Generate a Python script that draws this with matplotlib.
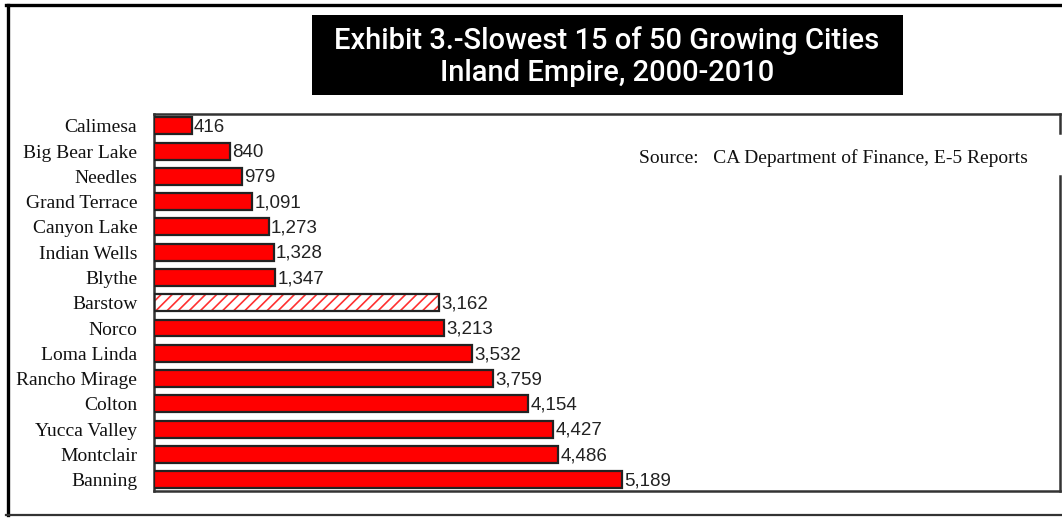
import matplotlib
matplotlib.use("Agg")
import matplotlib.pyplot as plt
from matplotlib.lines import Line2D
from matplotlib.patches import Rectangle

cities = ["Calimesa", "Big Bear Lake", "Needles", "Grand Terrace", "Canyon Lake",
          "Indian Wells", "Blythe", "Barstow", "Norco", "Loma Linda",
          "Rancho Mirage", "Colton", "Yucca Valley", "Montclair", "Banning"]
growth = [416, 840, 979, 1091, 1273, 1328, 1347, 3162, 3213, 3532,
          3759, 4154, 4427, 4486, 5189]
highlight = "Barstow"

title_lines = ["Exhibit 3.-Slowest 15 of 50 Growing Cities", "Inland Empire, 2000-2010"]
source_note = "Source:   CA Department of Finance, E-5 Reports"

plt.rcParams["hatch.linewidth"] = 1.2

W, H = 1062, 518
fig = plt.figure(figsize=(W / 100, H / 100), dpi=100)
fig.patch.set_facecolor("white")

# plot area in pixel terms -> figure fractions
ax_l, ax_r, ax_t, ax_b = 154, 1060, 114, 491
ax = fig.add_axes([ax_l / W, 1 - ax_b / H, (ax_r - ax_l) / W, (ax_b - ax_t) / H])

ypos = list(range(len(cities)))
bar_h = 0.67
for y, city, val in zip(ypos, cities, growth):
    if city == highlight:
        ax.barh(y, val, height=bar_h, color="white", edgecolor="#ff3030",
                hatch="///", linewidth=0, zorder=2)
        ax.barh(y, val, height=bar_h, color="none", edgecolor="#222222",
                linewidth=1.6, zorder=3)
    else:
        ax.barh(y, val, height=bar_h, color="#ff0000", edgecolor="#222222",
                linewidth=1.6, zorder=3)
    ax.text(val + 25, y + 0.05, f"{val:,}", va="center", ha="left",
            fontsize=13.5, family=["Liberation Sans", "DejaVu Sans"], color="#222222")

ax.set_xlim(0, 10050)
ax.set_ylim(14.45, -0.47)
ax.set_yticks(ypos)
ax.set_yticklabels(cities, family=["Liberation Serif", "DejaVu Serif"], fontsize=14,
                   color="#111111")
ax.tick_params(axis="y", length=0, pad=12)
ax.set_xticks([])

for side in ("left", "top", "bottom"):
    ax.spines[side].set_color("#333333")
    ax.spines[side].set_linewidth(1.8)
ax.spines["right"].set_visible(False)
# right edge of the frame, broken behind the source note
for y0, y1 in [(0.0, 0.835), (0.95, 1.0)]:
    ax.add_line(Line2D([1, 1], [y0, y1], transform=ax.transAxes, color="#333333",
                       lw=1.8, clip_on=False))

ax.text(0.965, 0.883, source_note, transform=ax.transAxes, ha="right", va="center",
        fontsize=14, family=["Liberation Serif", "DejaVu Serif"], color="#111111")

# title block
bx0, bx1, by0, by1 = 312, 903, 15, 95
fig.add_artist(Rectangle((bx0 / W, 1 - by1 / H), (bx1 - bx0) / W, (by1 - by0) / H,
                         transform=fig.transFigure, facecolor="black", edgecolor="none"))
tfam = ["Roboto", "DejaVu Sans"]
fig.text(607 / W, 1 - 41 / H, title_lines[0], ha="center", va="center", color="white",
         fontsize=21, fontweight="medium", family=tfam)
fig.text(607 / W, 1 - 73 / H, title_lines[1], ha="center", va="center", color="white",
         fontsize=21, fontweight="medium", family=tfam)

# outer frame
fig.add_artist(Line2D([7.5 / W, 7.5 / W], [1 - 4.5 / H, 1 - 514.5 / H],
                      transform=fig.transFigure, color="black", lw=2.4))
fig.add_artist(Line2D([6 / W, 1], [1 - 4.5 / H, 1 - 4.5 / H],
                      transform=fig.transFigure, color="black", lw=2.4))
fig.add_artist(Line2D([6 / W, 1], [1 - 514.5 / H, 1 - 514.5 / H],
                      transform=fig.transFigure, color="#333333", lw=1.6))

fig.savefig("out.png", dpi=100)
